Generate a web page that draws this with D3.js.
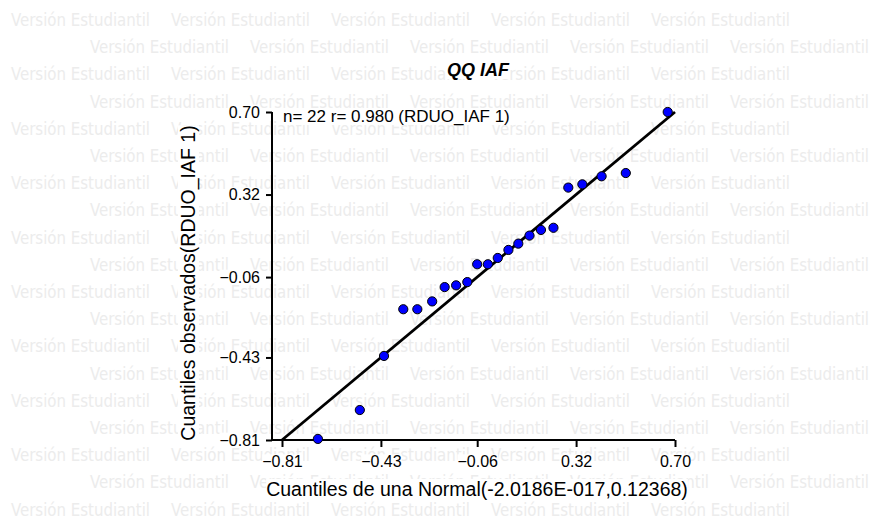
<!DOCTYPE html>
<html>
<head>
<meta charset="utf-8">
<script src="https://cdn.jsdelivr.net/npm/d3@7"></script>
<style>
    html, body { margin: 0; padding: 0; background: #fff; }
    .graph { width: 869px; height: 518px; }
    text { font-family: "Liberation Sans", Arial, sans-serif; fill: #000; }
    .wm { font-family: "DejaVu Sans Condensed", "Liberation Sans Narrow", sans-serif; fill: #ececec; }
</style>
</head>
<body>
<div class="graph"></div>
<script>
// quantiles
var normalQuantiles = [-0.672, -0.511, -0.418, -0.344, -0.290, -0.233, -0.185, -0.141, -0.098, -0.060, -0.019,
    0.019, 0.060, 0.098, 0.141, 0.185, 0.233, 0.290, 0.344, 0.418, 0.511, 0.672];
var observedQuantiles = [-0.805, -0.672, -0.423, -0.208, -0.208, -0.172, -0.106, -0.098, -0.083, -0.001, -0.001,
    0.028, 0.065, 0.094, 0.131, 0.157, 0.167, 0.352, 0.367, 0.404, 0.419, 0.700];
var tickValues = [-0.81, -0.43, -0.06, 0.32, 0.70];
var fitLine = { intercept: 0, slope: 1 };

var chartTitle = "QQ IAF",
    xTitle = "Cuantiles de una Normal(-2.0186E-017,0.12368)",
    yTitle = "Cuantiles observados(RDUO_IAF 1)",
    note = "n= 22 r= 0.980 (RDUO_IAF 1)",
    watermark = "Versión Estudiantil";

var width = 869,
    height = 518;

var svg = d3.select('.graph').append("svg")
    .attr("width", width)
    .attr("height", height);

///////////////////////////////////////////////////////////////////////////
//////////////////////////////// WATERMARK ////////////////////////////////
///////////////////////////////////////////////////////////////////////////

var wm = svg.append("g");
for (var i = 0; i < 19; i++) {
    var startX = i % 2 == 0 ? 11 : 90;
    for (var k = 0; k < 5; k++) {
        wm.append("text")
            .attr("class", "wm")
            .attr("x", startX + k * 160)
            .attr("y", 26 + i * 27.2)
            .attr("textLength", 139)
            .attr("lengthAdjust", "spacingAndGlyphs")
            .style("font-size", "17px")
            .text(watermark);
    }
}

// white box behind a text so the watermark does not show through
function backdrop(sel) {
    sel.each(function() {
        var node = this,
            b = node.getBBox();
        d3.select(node.parentNode).insert("rect", function() { return node; })
            .attr("x", b.x)
            .attr("y", b.y + 1)
            .attr("width", b.width)
            .attr("height", b.height - 2)
            .attr("transform", d3.select(node).attr("transform"))
            .attr("fill", "#fff");
    });
}

var x = d3.scaleLinear().domain([-0.81, 0.70]).range([282, 675]);
var y = d3.scaleLinear().domain([-0.81, 0.70]).range([440, 112]);
var axisX0 = 272;

///////////////////////////////////////////////////////////////////////////
////////////////////////////////// AXES ///////////////////////////////////
///////////////////////////////////////////////////////////////////////////

var gx = svg.append("g")
    .attr("transform", "translate(0,440)")
    .call(d3.axisBottom(x)
        .tickValues(tickValues)
        .tickFormat(d3.format(".2f"))
        .tickSize(7)
        .tickSizeOuter(0)
        .tickPadding(9));

var gy = svg.append("g")
    .attr("transform", "translate(" + axisX0 + ",0)")
    .call(d3.axisLeft(y)
        .tickValues(tickValues)
        .tickFormat(d3.format(".2f"))
        .tickSize(6)
        .tickSizeOuter(0)
        .tickPadding(6));

[gx, gy].forEach(function(g) {
    g.select(".domain").remove();
    g.selectAll("line").attr("stroke", "#000").attr("stroke-width", 2);
    g.selectAll("text")
        .attr("fill", "#000")
        .style("font-family", '"Liberation Sans", Arial, sans-serif')
        .style("font-size", "16px");
});

svg.append("line")
    .attr("x1", axisX0).attr("x2", x.range()[1])
    .attr("y1", y.range()[0]).attr("y2", y.range()[0])
    .attr("stroke", "#000").attr("stroke-width", 2);

svg.append("line")
    .attr("x1", axisX0).attr("x2", axisX0)
    .attr("y1", y.range()[0] + 1).attr("y2", y.range()[1])
    .attr("stroke", "#000").attr("stroke-width", 2);

///////////////////////////////////////////////////////////////////////////
////////////////////////////////// TEXTS //////////////////////////////////
///////////////////////////////////////////////////////////////////////////

var labels = svg.append("g");

labels.append("text")
    .attr("x", 478)
    .attr("y", 76)
    .attr("text-anchor", "middle")
    .style("font-size", "18px")
    .style("font-weight", "bold")
    .style("font-style", "italic")
    .text(chartTitle);

labels.append("text")
    .attr("x", 477)
    .attr("y", 496)
    .attr("text-anchor", "middle")
    .style("font-size", "19.5px")
    .text(xTitle);

labels.append("text")
    .attr("transform", "translate(195,283) rotate(-90)")
    .attr("text-anchor", "middle")
    .style("font-size", "19.5px")
    .text(yTitle);

labels.append("text")
    .attr("x", 283)
    .attr("y", 122)
    .style("font-size", "17px")
    .text(note);

backdrop(gx.selectAll("text"));
backdrop(gy.selectAll("text"));
backdrop(labels.selectAll("text"));

///////////////////////////////////////////////////////////////////////////
/////////////////////////////// FIT + POINTS //////////////////////////////
///////////////////////////////////////////////////////////////////////////

var xd = x.domain();
svg.append("line")
    .attr("x1", x(xd[0]))
    .attr("y1", y(fitLine.intercept + fitLine.slope * xd[0]))
    .attr("x2", x(xd[1]))
    .attr("y2", y(fitLine.intercept + fitLine.slope * xd[1]))
    .attr("stroke", "#000")
    .attr("stroke-width", 2.8);

svg.append("g")
    .selectAll("circle")
    .data(normalQuantiles)
    .enter().append("circle")
    .attr("cx", function(d) { return x(d); })
    .attr("cy", function(d, i) { return y(observedQuantiles[i]); })
    .attr("r", 4.6)
    .attr("fill", "#0000ff")
    .attr("stroke", "#000")
    .attr("stroke-width", 1);
</script>
</body>
</html>
